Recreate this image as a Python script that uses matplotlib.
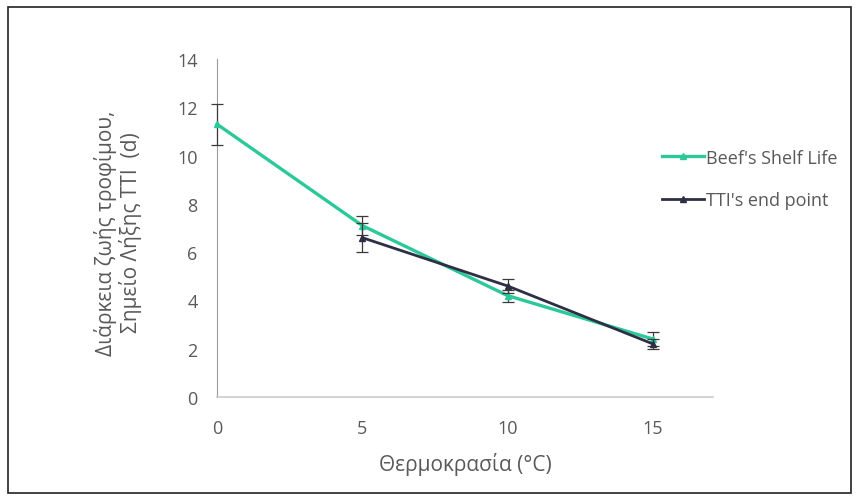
import matplotlib
matplotlib.use("Agg")
import matplotlib.pyplot as plt
from matplotlib.patches import Rectangle
from matplotlib.lines import Line2D

plt.rcParams['font.family'] = ['Open Sans', 'Noto Sans', 'DejaVu Sans']

temps_beef = [0, 5, 10, 15]
shelf_life = [11.3, 7.1, 4.2, 2.4]
shelf_err = [0.85, 0.4, 0.25, 0.3]

temps_tti = [5, 10, 15]
tti_end = [6.6, 4.6, 2.2]
tti_err = [0.6, 0.3, 0.2]

x_ticks = [0, 5, 10, 15]
y_ticks = [0, 2, 4, 6, 8, 10, 12, 14]

green = '#2BC99A'
dark = '#2E2F45'
text_col = '#595959'

fig = plt.figure(figsize=(8.59, 5.02), dpi=100)
fig.patches.append(Rectangle((8 / 859, 8 / 502), (851 - 8) / 859, (494 - 8) / 502,
                             transform=fig.transFigure, fill=False,
                             edgecolor='#222222', linewidth=1.2))

ax = fig.add_axes([217 / 859, 1 - 398 / 502, (713 - 217) / 859, (398 - 60) / 502])

ax.errorbar(temps_beef, shelf_life, yerr=shelf_err, color=green, marker='^',
            markersize=5, linewidth=2.4, ecolor='#3a3a3a', elinewidth=0.9,
            capsize=4, capthick=0.9, zorder=3, clip_on=False)
ax.errorbar(temps_tti, tti_end, yerr=tti_err, color=dark, marker='^',
            markersize=5, linewidth=2.0, ecolor='#3a3a3a', elinewidth=0.9,
            capsize=4, capthick=0.9, zorder=4, clip_on=False)

ax.set_xlim(0, 17.07)
ax.set_ylim(0, 14)
ax.set_xticks(x_ticks)
ax.set_yticks(y_ticks)
ax.tick_params(length=0, labelsize=13, labelcolor=text_col)
ax.tick_params(axis='x', pad=16)
ax.tick_params(axis='y', pad=14)

for side in ('top', 'right'):
    ax.spines[side].set_visible(False)
ax.spines['left'].set_color('#9a9a9a')
ax.spines['bottom'].set_color('#cccccc')
ax.spines['bottom'].set_linewidth(1.2)

fig.text(465 / 859, 1 - 465 / 502, 'Θερμοκρασία (°C)', ha='center', va='center',
         fontsize=15, color=text_col)
fig.text(118 / 859, 1 - 233 / 502, 'Διάρκεια ζωής τροφίμου,\nΣημείο Λήξης TTI  (d)',
         ha='center', va='center', rotation=90, fontsize=15, color=text_col,
         linespacing=1.1)

handles = [
    Line2D([], [], color=green, marker='^', markersize=5, linewidth=2.4),
    Line2D([], [], color=dark, marker='^', markersize=5, linewidth=2.0),
]
labels = ["Beef's Shelf Life", "TTI's end point"]
fig.legend(handles, labels, loc='center left', bbox_to_anchor=(646 / 859, 1 - 180 / 502),
           frameon=False, fontsize=13, handlelength=2.3, handletextpad=0.1,
           labelspacing=1.35, labelcolor=text_col)

fig.savefig('out.png', dpi=100)
